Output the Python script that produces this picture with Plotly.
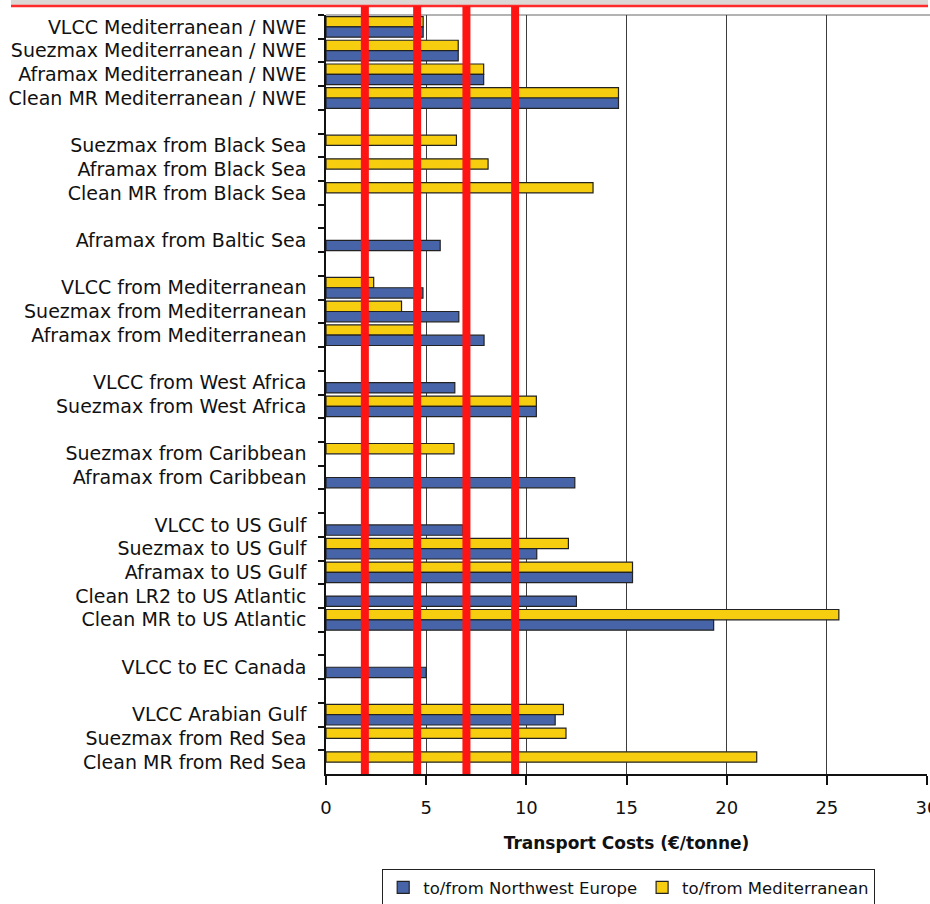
import plotly.graph_objects as go

# ---------------- data ----------------
categories = [
    "VLCC Mediterranean / NWE",
    "Suezmax Mediterranean / NWE",
    "Aframax Mediterranean / NWE",
    "Clean MR Mediterranean / NWE",
    " ",
    "Suezmax from Black Sea",
    "Aframax from Black Sea",
    "Clean MR from Black Sea",
    "  ",
    "Aframax from Baltic Sea",
    "   ",
    "VLCC from Mediterranean",
    "Suezmax from Mediterranean",
    "Aframax from Mediterranean",
    "    ",
    "VLCC from West Africa",
    "Suezmax from West Africa",
    "     ",
    "Suezmax from Caribbean",
    "Aframax from Caribbean",
    "      ",
    "VLCC to US Gulf",
    "Suezmax to US Gulf",
    "Aframax to US Gulf",
    "Clean LR2 to US Atlantic",
    "Clean MR to US Atlantic",
    "       ",
    "VLCC to EC Canada",
    "        ",
    "VLCC Arabian Gulf",
    "Suezmax from Red Sea",
    "Clean MR from Red Sea",
]

# to/from Northwest Europe (blue)
nwe_costs = [
    4.85, 6.6, 7.87, 14.6,
    None,
    None, None, None,
    None,
    5.7,
    None,
    4.84, 6.63, 7.89,
    None,
    6.43, 10.5,
    None,
    None, 12.42,
    None,
    6.84, 10.52, 15.3, 12.5, 19.35,
    None,
    5.0,
    None,
    11.44, None, None,
]

# to/from Mediterranean (yellow)
med_costs = [
    4.85, 6.6, 7.87, 14.6,
    None,
    6.51, 8.09, 13.33,
    None,
    None,
    None,
    2.38, 3.77, 4.45,
    None,
    None, 10.5,
    None,
    6.39, None,
    None,
    None, 12.1, 15.3, None, 25.6,
    None,
    None,
    None,
    11.85, 11.98, 21.5,
]

x_ticks = [0, 5, 10, 15, 20, 25, 30]
highlight_x = [1.94, 4.55, 7.01, 9.44]   # red marker lines drawn over the chart

series_names = ["to/from Northwest Europe", "to/from Mediterranean"]

# ---------------- figure ----------------
BLUE = "#4864A8"
YELLOW = "#F7CD10"
FONT = "DejaVu Sans"

fig = go.Figure()
fig.add_trace(go.Bar(
    y=categories, x=med_costs, orientation="h", name=series_names[1],
    marker=dict(color=YELLOW, line=dict(color="#222222", width=1.2)),
    legendrank=2,
))
fig.add_trace(go.Bar(
    y=categories, x=nwe_costs, orientation="h", name=series_names[0],
    marker=dict(color=BLUE, line=dict(color="#222222", width=1.2)),
    legendrank=1,
))

L, R, T, B = 326, 3, 15, 130
W, H = 930, 904
pw = W - L - R
ph = H - T - B


def px_to_paper_x(px):
    return (px - L) / pw


def px_to_paper_y(py):
    return (H - B - py) / ph


shapes = []
# grey header band and red rule at the very top
shapes.append(dict(type="rect", xref="paper", yref="paper",
                   x0=px_to_paper_x(11), x1=px_to_paper_x(928),
                   y0=px_to_paper_y(5), y1=px_to_paper_y(0),
                   fillcolor="#DCD8D5", line=dict(width=0), layer="above"))
shapes.append(dict(type="line", xref="paper", yref="paper",
                   x0=px_to_paper_x(11), x1=px_to_paper_x(928),
                   y0=px_to_paper_y(6), y1=px_to_paper_y(6),
                   line=dict(color="#FF2A2A", width=2.5), layer="above"))
# top border of plot area
shapes.append(dict(type="line", xref="paper", yref="paper",
                   x0=0, x1=1.01, y0=1, y1=1,
                   line=dict(color="#9A9A9A", width=1.5), layer="below"))
# red marker lines
for xv in highlight_x:
    shapes.append(dict(type="line", xref="x", yref="paper",
                       x0=xv, x1=xv, y0=0, y1=px_to_paper_y(6),
                       line=dict(color="#FF1414", width=8), layer="above"))

fig.update_layout(
    width=W, height=H,
    margin=dict(l=L, r=R, t=T, b=B, autoexpand=False),
    paper_bgcolor="white", plot_bgcolor="white",
    barmode="group", bargap=0.13, bargroupgap=0,
    font=dict(family=FONT, size=18, color="#111111"),
    showlegend=True,
    legend=dict(
        orientation="h", x=px_to_paper_x(382), y=px_to_paper_y(869),
        xanchor="left", yanchor="top",
        bordercolor="#222222", borderwidth=1.2,
        font=dict(family=FONT, size=16.5, color="#111111"),
        itemwidth=30, tracegroupgap=0,
    ),
    shapes=shapes,
)

fig.update_xaxes(
    range=[0, 30], tickvals=x_ticks, ticktext=[str(v) for v in x_ticks],
    showgrid=True, gridcolor="#3C3C3C", gridwidth=1.2,
    showline=True, linecolor="#111111", linewidth=1.5,
    ticks="outside", ticklen=9, tickcolor="#111111", tickwidth=1.5,
    ticklabelstandoff=8, ticklabeloverflow="allow",
    tickfont=dict(family=FONT, size=18, color="#111111"),
    zeroline=False,
    title=dict(text="<b>Transport Costs (€/tonne)</b>",
               font=dict(family=FONT, size=17, color="#111111"), standoff=20),
)
fig.update_yaxes(
    type="category", categoryorder="array", categoryarray=categories,
    autorange="reversed",
    showgrid=False, zeroline=False,
    showline=True, linecolor="#111111", linewidth=1.5,
    ticks="outside", ticklen=6, tickcolor="#111111", tickwidth=1.5,
    tickson="boundaries", ticklabelstandoff=14,
    tickfont=dict(family=FONT, size=19, color="#111111"),
)

fig.write_html(
    "out.html",
    config={"displayModeBar": False},
    post_script="document.body.style.margin='0px';document.body.style.overflow='hidden';",
)
